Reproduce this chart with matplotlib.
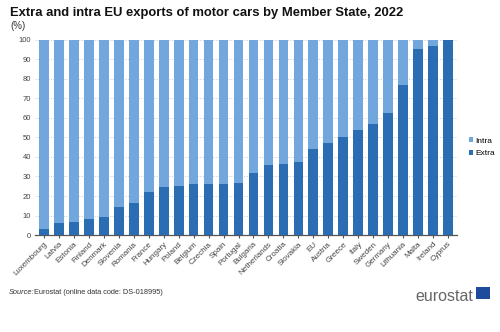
import numpy as np
import matplotlib.pyplot as plt
from matplotlib.patches import Rectangle

plt.rcParams['font.family'] = ['Liberation Sans', 'DejaVu Sans']

countries = ['Luxembourg', 'Latvia', 'Estonia', 'Finland', 'Denmark', 'Slovenia', 'Romania',
             'France', 'Hungary', 'Poland', 'Belgium', 'Czechia', 'Spain', 'Portugal',
             'Bulgaria', 'Netherlands', 'Croatia', 'Slovakia', 'EU', 'Austria', 'Greece',
             'Italy', 'Sweden', 'Germany', 'Lithuania', 'Malta', 'Ireland', 'Cyprus']
extra = [3.2, 6.1, 6.7, 8.4, 9.4, 14.2, 16.2, 22.0, 24.6, 24.9, 25.9, 26.3, 26.3, 26.6,
         31.7, 35.8, 36.2, 37.5, 44.0, 47.1, 50.3, 53.6, 57.0, 62.5, 77.1, 95.2, 97.1, 100.0]
intra = [100 - v for v in extra]

c_extra = '#2a6db3'
c_intra = '#72a7de'

fig = plt.figure(figsize=(5, 3.32), dpi=100)
ax = fig.add_axes([0.07, 0.292, 0.844, 0.588])

x = np.arange(len(countries))
ax.bar(x, extra, width=0.65, color=c_extra, label='Extra', zorder=3)
ax.bar(x, intra, width=0.65, bottom=extra, color=c_intra, label='Intra', zorder=3)

ax.set_xlim(-0.6, len(countries) - 0.4)
ax.set_ylim(0, 100)
ax.set_yticks(range(0, 101, 10))
ax.yaxis.grid(True, linestyle=':', color='#c8c8c8', linewidth=0.7, zorder=0)
for s in ['top', 'right', 'left']:
    ax.spines[s].set_visible(False)
ax.spines['bottom'].set_color('#555555')
ax.spines['bottom'].set_linewidth(0.9)
ax.tick_params(axis='y', length=0, labelsize=5.5, colors='#444444', pad=3)
ax.set_xticks(x)
ax.set_xticklabels(countries, rotation=45, ha='right', rotation_mode='anchor',
                   fontsize=5.8, color='#444444')
ax.tick_params(axis='x', length=2, color='#555555', pad=2)

h, l = ax.get_legend_handles_labels()
ax.legend(h[::-1], l[::-1], loc='center left', bbox_to_anchor=(1.01, 0.45), frameon=False,
          fontsize=6, handlelength=0.5, handleheight=0.6, handletextpad=0.3,
          labelspacing=0.6)

fig.text(0.02, 0.962, 'Extra and intra EU exports of motor cars by Member State, 2022',
         fontsize=9.4, fontweight='bold', color='#111111', va='center')
fig.text(0.02, 0.922, '(%)', fontsize=7, color='#333333', va='center')
fig.text(0.017, 0.118, 'Source:', fontsize=5.3, style='italic', color='#333333', va='center')
fig.text(0.067, 0.118, 'Eurostat (online data code: DS-018995)', fontsize=5.3,
         color='#333333', va='center')

fig.text(0.946, 0.108, 'eurostat', fontsize=11.5, color='#666666', ha='right', va='center')
fig.patches.append(Rectangle((0.952, 0.098), 0.028, 0.038, transform=fig.transFigure,
                             facecolor='#1f4b9c', edgecolor='none'))

fig.savefig('out.png', dpi=100)
